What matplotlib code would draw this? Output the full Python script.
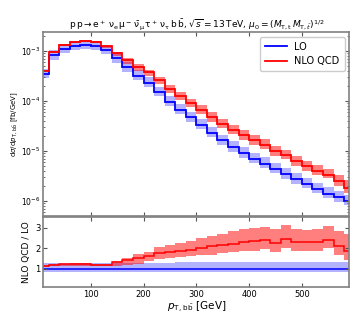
import numpy as np
import matplotlib
matplotlib.use("Agg")
import matplotlib.pyplot as plt

# bin edges in GeV
edges = np.arange(0, 620, 20)

# LO differential cross section [fb/GeV]
lo = [3.5e-4, 8.1e-4, 1.1e-3, 1.26e-3, 1.34e-3, 1.28e-3, 1.05e-3, 7.1e-4,
      4.7e-4, 3.2e-4, 2.3e-4, 1.5e-4, 9.6e-5, 6.6e-5, 4.7e-5, 3.3e-5,
      2.3e-5, 1.62e-5, 1.18e-5, 9.0e-6, 7.0e-6, 5.6e-6, 4.4e-6, 3.4e-6,
      2.7e-6, 2.2e-6, 1.75e-6, 1.4e-6, 1.18e-6, 1.0e-6]
# NLO QCD differential cross section [fb/GeV]
nlo = [3.96e-4, 9.56e-4, 1.32e-3, 1.52e-3, 1.61e-3, 1.51e-3, 1.23e-3, 9.23e-4,
       6.58e-4, 4.8e-4, 3.75e-4, 2.64e-4, 1.72e-4, 1.23e-4, 9.02e-5, 6.67e-5,
       4.78e-5, 3.48e-5, 2.61e-5, 2.06e-5, 1.64e-5, 1.33e-5, 9.99e-6, 8.3e-6,
       6.26e-6, 5.04e-6, 4.03e-6, 3.35e-6, 2.48e-6, 1.84e-6]

# relative scale uncertainties (up / down)
lo_up = [0.26, 0.26, 0.26, 0.26, 0.26, 0.26, 0.27, 0.27, 0.27, 0.28,
         0.28, 0.29, 0.29, 0.30, 0.30, 0.30, 0.31, 0.31, 0.31, 0.32,
         0.32, 0.32, 0.32, 0.33, 0.33, 0.33, 0.33, 0.33, 0.33, 0.33]
lo_dn = [0.18, 0.18, 0.18, 0.18, 0.18, 0.18, 0.18, 0.18, 0.18, 0.18,
         0.18, 0.18, 0.18, 0.18, 0.18, 0.18, 0.18, 0.18, 0.18, 0.18,
         0.18, 0.18, 0.18, 0.18, 0.18, 0.18, 0.18, 0.18, 0.18, 0.18]
nlo_up = [0.04, 0.04, 0.04, 0.04, 0.04, 0.04, 0.04, 0.05, 0.10, 0.13,
          0.12, 0.16, 0.19, 0.21, 0.22, 0.23, 0.24, 0.26, 0.28, 0.28,
          0.27, 0.28, 0.28, 0.28, 0.27, 0.26, 0.27, 0.29, 0.35, 0.45]
nlo_dn = [0.05, 0.05, 0.05, 0.05, 0.05, 0.05, 0.05, 0.14, 0.16, 0.17,
          0.17, 0.16, 0.15, 0.16, 0.17, 0.18, 0.19, 0.18, 0.18, 0.19,
          0.20, 0.18, 0.20, 0.18, 0.19, 0.20, 0.19, 0.16, 0.20, 0.22]

lo = np.array(lo)
nlo = np.array(nlo)
lo_up = np.array(lo_up)
lo_dn = np.array(lo_dn)
nlo_up = np.array(nlo_up)
nlo_dn = np.array(nlo_dn)

ratio = nlo / lo

c_lo = "#0000ff"
c_nlo = "#ff0000"
spine_col = "#808080"

fig = plt.figure(figsize=(3.64, 3.19), dpi=100)
ax = fig.add_axes([0.119, 0.323, 0.841, 0.577])
rx = fig.add_axes([0.119, 0.100, 0.841, 0.219], sharex=ax)

# ---- main panel ----
ax.stairs(lo * (1 + lo_up), edges, baseline=lo * (1 - lo_dn), fill=True,
          color=c_lo, alpha=0.3, lw=0)
ax.stairs(nlo * (1 + nlo_up), edges, baseline=nlo * (1 - nlo_dn), fill=True,
          color=c_nlo, alpha=0.5, lw=0)
ax.stairs(lo, edges, color=c_lo, lw=1.3, label="LO")
ax.stairs(nlo, edges, color=c_nlo, lw=1.3, label="NLO QCD")
ax.set_yscale("log")
ax.set_ylim(5e-7, 2.4e-3)
ax.set_xlim(10, 590)
ax.set_ylabel(r"$\mathrm{d}\sigma/\mathrm{d}p_{\mathrm{T,\,b\bar{b}}}$ [fb/GeV]",
              fontsize=5, labelpad=1)
ax.tick_params(labelbottom=False)
ax.legend(loc="upper right", fontsize=7, handlelength=2.2, borderpad=0.5,
          framealpha=1, edgecolor="#cccccc")
ax.set_title(r"$\mathrm{p\,p \to e^+\,\nu_e\,\mu^-\,\bar{\nu}_\mu\,\tau^+\,\nu_\tau\,b\,\bar{b}}$, "
             r"$\sqrt{s} = 13\,\mathrm{TeV}$, $\mu_0 = (M_{\mathrm{T,t}}\,M_{\mathrm{T},\bar{t}})^{1/2}$",
             fontsize=6.5, pad=3)

# ---- ratio panel ----
rx.stairs(1 + lo_up, edges, baseline=1 - lo_dn, fill=True, color=c_lo, alpha=0.3, lw=0)
rx.stairs(ratio * (1 + nlo_up), edges, baseline=ratio * (1 - nlo_dn), fill=True,
          color=c_nlo, alpha=0.5, lw=0)
rx.stairs(np.ones_like(lo), edges, color=c_lo, lw=1.1)
rx.stairs(ratio, edges, color=c_nlo, lw=1.1)
rx.set_ylim(0.1, 3.5)
rx.set_yticks([1, 2, 3])
rx.set_xticks([100, 200, 300, 400, 500])
rx.set_ylabel("NLO QCD / LO", fontsize=6.5, labelpad=3)
rx.set_xlabel(r"$p_{\mathrm{T,\,b\bar{b}}}$ [GeV]", fontsize=7.5, labelpad=1)

for a in (ax, rx):
    a.tick_params(which="both", direction="in", top=True, right=True,
                  labelsize=6, color="#555555", pad=2)
    a.tick_params(which="major", length=3)
    a.tick_params(which="minor", length=1.5)
    for s in a.spines.values():
        s.set_color(spine_col)
        s.set_linewidth(1.2)
ax.tick_params(axis="y", labelsize=5.5)

fig.savefig("out.png", dpi=100)
